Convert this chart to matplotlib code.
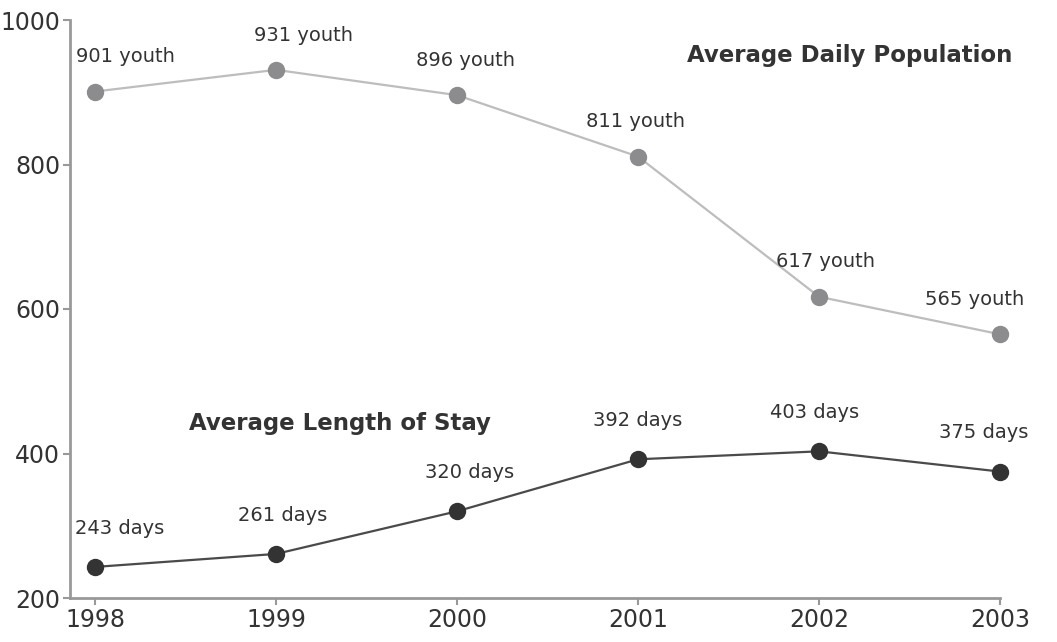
import matplotlib.pyplot as plt

plt.rcParams['font.family'] = ['DejaVu Sans']

# Yearly figures for youth detention
years = [1998, 1999, 2000, 2001, 2002, 2003]
daily_population = [901, 931, 896, 811, 617, 565]
length_of_stay = [243, 261, 320, 392, 403, 375]

# label nudges (points) so the text sits above each marker
pop_dx = [22, 20, 6, -2, 5, -18]
stay_dx = [18, 5, 9, 0, -3, -12]

fig = plt.figure(figsize=(10.57, 6.42), dpi=100)
ax = fig.add_axes([70 / 1057, 44 / 642, 930 / 1057, 578 / 642])

ax.plot(years, daily_population, color='#bdbdbd', lw=1.6, zorder=2, clip_on=False)
ax.plot(years, daily_population, 'o', color='#8c8c8e', ms=11.5, zorder=3, clip_on=False)
ax.plot(years, length_of_stay, color='#4a4a4a', lw=1.6, zorder=2, clip_on=False)
ax.plot(years, length_of_stay, 'o', color='#333333', ms=11.5, zorder=3, clip_on=False)

for x, v, dx in zip(years, daily_population, pop_dx):
    ax.annotate(f'{v} youth', (x, v), xytext=(dx, 25), textcoords='offset points',
                ha='center', va='center', fontsize=14, color='#333333')
for x, v, dx in zip(years, length_of_stay, stay_dx):
    ax.annotate(f'{v} days', (x, v), xytext=(dx, 28), textcoords='offset points',
                ha='center', va='center', fontsize=14, color='#333333')

ax.text(2001.27, 951, 'Average Daily Population', fontsize=16.5, fontweight='bold',
        color='#333333', va='center', ha='left')
ax.text(1998.52, 442, 'Average Length of Stay', fontsize=16.5, fontweight='bold',
        color='#333333', va='center', ha='left')

ax.set_xlim(1998 - 25 / 181, 2003)
ax.set_ylim(200, 1000)
ax.set_xticks(years)
ax.set_yticks([200, 400, 600, 800, 1000])
ax.tick_params(length=5, width=1.5, color='#999999', labelsize=17,
               labelcolor='#333333', pad=2)

for side in ['top', 'right']:
    ax.spines[side].set_visible(False)
for side in ['left', 'bottom']:
    ax.spines[side].set_color('#999999')
    ax.spines[side].set_linewidth(2)

fig.savefig('out.png', dpi=100)
